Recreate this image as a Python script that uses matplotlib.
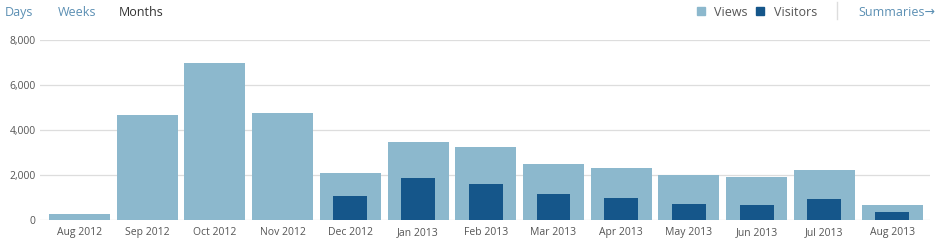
import numpy as np
import matplotlib.pyplot as plt

months = ["Aug 2012", "Sep 2012", "Oct 2012", "Nov 2012", "Dec 2012", "Jan 2013", "Feb 2013",
          "Mar 2013", "Apr 2013", "May 2013", "Jun 2013", "Jul 2013", "Aug 2013"]
views = [260, 4650, 6960, 4750, 2070, 3470, 3230, 2490, 2320, 2000, 1890, 2220, 670]
visitors = [0, 0, 0, 0, 1070, 1880, 1610, 1175, 1000, 715, 685, 950, 360]
yticks = [0, 2000, 4000, 6000, 8000]

plt.rcParams['font.family'] = ['Open Sans', 'DejaVu Sans']

c_views = '#8cb8cd'
c_vis = '#15568a'
c_text = '#555555'

fig = plt.figure(figsize=(9.4, 2.42), dpi=100)
ax = fig.add_axes([40/940, 22/242, 890/940, 180/242])

x = np.arange(len(months))
ax.bar(x, views, width=0.9, color=c_views, zorder=2)
ax.bar(x, visitors, width=0.5, color=c_vis, zorder=3)

ax.set_xlim(-0.583, 12.56)
ax.set_ylim(0, 8000)
ax.set_yticks(yticks)
ax.set_yticklabels([f"{v:,}" for v in yticks])
ax.set_xticks(x)
ax.set_xticklabels(months)
ax.tick_params(axis='both', length=0, labelsize=7.5, colors=c_text)
ax.tick_params(axis='y', pad=3)
ax.tick_params(axis='x', pad=5)
for s in ax.spines.values():
    s.set_visible(False)
ax.grid(axis='y', color='#dddddd', linewidth=0.9, zorder=0)
ax.set_axisbelow(True)

# header, baseline at y=16px
yb = 1 - 16/242
fig.text(5/940, yb, "Days", color='#5b8fb3', fontsize=9, va='baseline')
fig.text(58/940, yb, "Weeks", color='#5b8fb3', fontsize=9, va='baseline')
fig.text(119/940, yb, "Months", color='#333333', fontsize=9, va='baseline')

# legend
fig.patches.append(plt.Rectangle((697/940, 1 - 15/242), 8/940, 8/242, color=c_views,
                                 transform=fig.transFigure, figure=fig))
fig.text(714/940, yb, "Views", color=c_text, fontsize=9, va='baseline')
fig.patches.append(plt.Rectangle((756/940, 1 - 15/242), 8/940, 8/242, color=c_vis,
                                 transform=fig.transFigure, figure=fig))
fig.text(774/940, yb, "Visitors", color=c_text, fontsize=9, va='baseline')
fig.add_artist(plt.Line2D([837/940, 837/940], [1 - 2/242, 1 - 19/242], color='#dddddd',
                          linewidth=1, transform=fig.transFigure))
fig.text(858/940, yb, "Summaries\u2192", color='#5b8fb3', fontsize=9, va='baseline',
         family=['Open Sans', 'DejaVu Sans'])

fig.savefig("out.png", dpi=100)
